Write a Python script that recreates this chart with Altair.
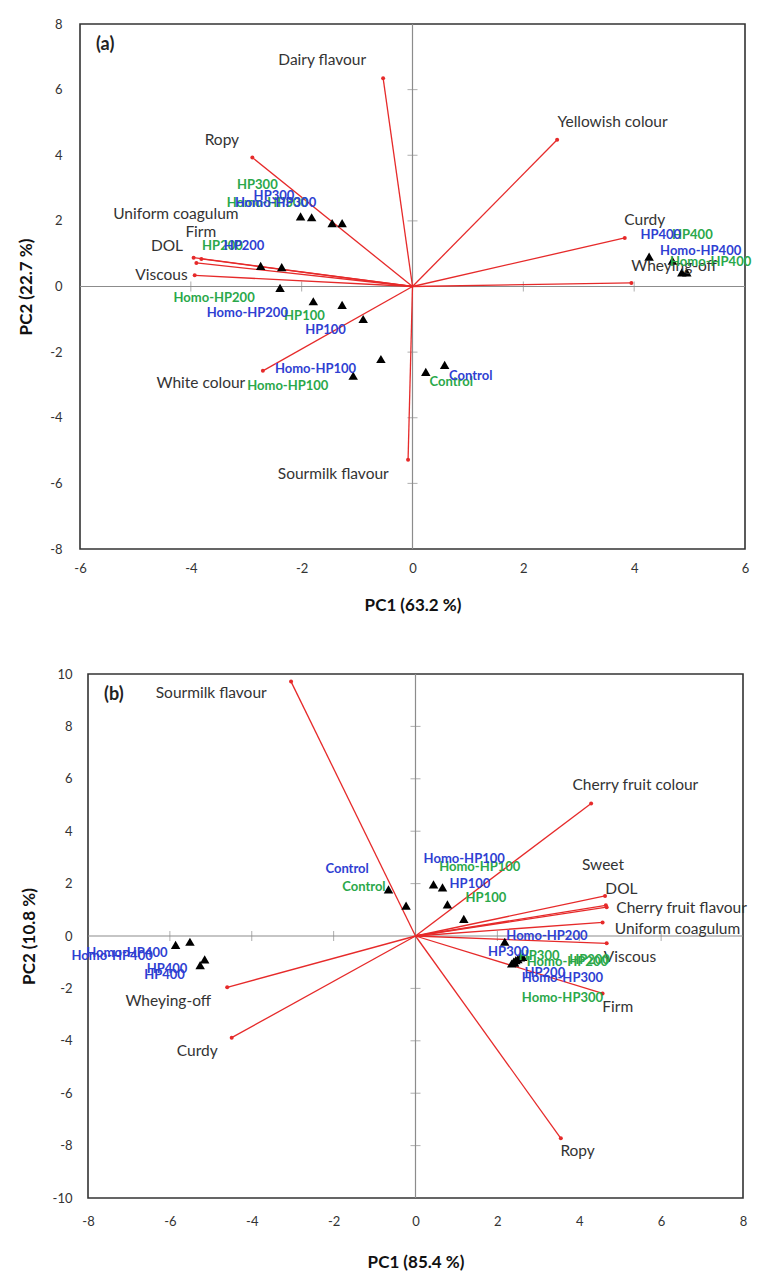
import altair as alt
import pandas as pd

FONT = "Lato"
RED = "#e62a2a"
BLUE = "#2f3fd2"
GREEN = "#2aa84a"
GRAY = "#8c8c8c"

# ---------------- Panel (a) ----------------
a_var_names = ["Dairy flavour", "Ropy", "DOL", "Firm", "Uniform coagulum", "Viscous",
               "White colour", "Sourmilk flavour", "Yellowish colour", "Curdy", "Wheying-off"]
a_var_x = [-0.53, -2.89, -3.95, -3.81, -3.90, -3.93, -2.70, -0.08, 2.61, 3.83, 3.95]
a_var_y = [6.35, 3.93, 0.88, 0.84, 0.72, 0.34, -2.57, -5.28, 4.47, 1.48, 0.11]
a_lab_x = [-1.63, -3.44, -4.43, -3.82, -4.27, -4.53, -3.82, -1.43, 3.61, 4.19, 4.72]
a_lab_y = [6.90, 4.45, 1.23, 1.67, 2.21, 0.36, -2.95, -5.70, 5.00, 2.03, 0.63]

a_tri_x = [-2.02, -1.82, -1.45, -1.27, -2.74, -2.36, -2.39, -1.79, -1.27, -0.89, -0.57,
           -1.07, 0.24, 0.58, 4.27, 4.69, 4.86, 4.95]
a_tri_y = [2.14, 2.11, 1.93, 1.93, 0.63, 0.59, -0.04, -0.45, -0.56, -0.99, -2.21,
           -2.72, -2.60, -2.39, 0.91, 0.79, 0.43, 0.43]

a_smp_names = ["HP300", "Homo-HP300", "HP200", "Homo-HP200", "HP100", "Homo-HP100", "Control", "HP400", "Homo-HP400",
               "HP300", "Homo-HP300", "HP200", "Homo-HP200", "HP100", "Homo-HP100", "Control", "HP400", "Homo-HP400"]
a_smp_group = ["green"] * 9 + ["blue"] * 9
a_smp_x = [-2.80, -2.62, -3.43, -3.58, -1.95, -2.25, 0.70, 5.05, 5.38,
           -2.50, -2.47, -3.04, -2.98, -1.57, -1.75, 1.05, 4.48, 5.20]
a_smp_y = [3.09, 2.55, 1.23, -0.36, -0.89, -3.02, -2.92, 1.58, 0.74,
           2.77, 2.55, 1.23, -0.81, -1.32, -2.52, -2.72, 1.58, 1.07]

a_ticks_x = [-6, -4, -2, 0, 2, 4, 6]
a_ticks_y = [-8, -6, -4, -2, 0, 2, 4, 6, 8]

# ---------------- Panel (b) ----------------
b_var_names = ["Sourmilk flavour", "Cherry fruit colour", "Sweet", "DOL", "Cherry fruit flavour",
               "Uniform coagulum", "Viscous", "Firm", "Ropy", "Wheying-off", "Curdy"]
b_var_x = [-3.04, 4.29, 4.63, 4.65, 4.67, 4.57, 4.67, 4.57, 3.55, -4.60, -4.49]
b_var_y = [9.71, 5.06, 1.53, 1.17, 1.10, 0.52, -0.28, -2.19, -7.72, -1.96, -3.88]
b_lab_x = [-4.99, 5.37, 4.58, 5.03, 6.50, 6.40, 5.24, 4.94, 3.96, -6.04, -5.33]
b_lab_y = [9.26, 5.76, 2.70, 1.81, 1.08, 0.28, -0.79, -2.70, -8.19, -2.47, -4.38]

b_tri_x = [-0.66, -0.23, 0.44, 0.66, 0.78, 1.18, -5.86, -5.51, -5.15, -5.26,
           2.18, 2.35, 2.40, 2.45, 2.50, 2.56, 2.42, 2.62]
b_tri_y = [1.78, 1.16, 1.97, 1.86, 1.21, 0.65, -0.34, -0.22, -0.89, -1.11,
           -0.22, -1.05, -0.98, -0.92, -0.88, -0.82, -1.02, -0.80]

b_smp_names = ["Control", "Homo-HP100", "HP100", "Homo-HP200", "HP300", "HP200", "Homo-HP300", "Homo-HP400", "HP400",
               "Control", "Homo-HP100", "HP100", "Homo-HP200", "HP300", "HP200", "Homo-HP300", "Homo-HP400", "HP400"]
b_smp_group = ["green", "green", "green", "green", "green", "green", "green", "blue", "blue",
               "blue", "blue", "blue", "blue", "blue", "blue", "blue", "blue", "blue"]
b_smp_x = [-1.26, 1.57, 1.72, 3.71, 3.02, 4.25, 3.59, -7.41, -6.13,
           -1.67, 1.19, 1.33, 3.21, 2.27, 3.16, 3.59, -7.05, -6.07]
b_smp_y = [1.88, 2.62, 1.44, -0.98, -0.76, -0.90, -2.38, -0.76, -1.49,
           2.57, 2.95, 2.00, 0.00, -0.60, -1.42, -1.62, -0.66, -1.26]

b_ticks_x = [-8, -6, -4, -2, 0, 2, 4, 6, 8]
b_ticks_y = [-10, -8, -6, -4, -2, 0, 2, 4, 6, 8, 10]


def panel(tag, var_names, var_x, var_y, lab_x, lab_y, tri_x, tri_y,
          smp_names, smp_group, smp_x, smp_y, ticks_x, ticks_y,
          xtitle, ytitle, width, height, xlab_pad, xtitle_pad, ylab_pad, ytitle_pad):
    xs = alt.Scale(domain=[ticks_x[0], ticks_x[-1]], nice=False, zero=False)
    ys = alt.Scale(domain=[ticks_y[0], ticks_y[-1]], nice=False, zero=False)
    xax = alt.Axis(values=ticks_x, title=xtitle, domain=False, ticks=False, grid=False,
                   labelExpr="toString(datum.value)",
                   labelPadding=xlab_pad, titlePadding=xtitle_pad, labelFlush=False)
    yax = alt.Axis(values=ticks_y, title=ytitle, domain=False, ticks=False, grid=False,
                   labelExpr="toString(datum.value)",
                   labelPadding=ylab_pad, titlePadding=ytitle_pad, labelFlush=False)

    vdf = pd.DataFrame({"name": var_names, "vx": var_x, "vy": var_y, "lx": lab_x, "ly": lab_y,
                        "ox": [0.0] * len(var_x), "oy": [0.0] * len(var_x)})
    tdf = pd.DataFrame({"tx": tri_x, "ty": tri_y})
    sdf = pd.DataFrame({"name": smp_names, "group": smp_group, "sx": smp_x, "sy": smp_y})
    zdf = pd.DataFrame({"z": [0.0]})
    txv = [v for v in ticks_x if v not in (0, ticks_x[0], ticks_x[-1])]
    tyv = [v for v in ticks_y if v not in (0, ticks_y[0], ticks_y[-1])]
    txdf = pd.DataFrame({"t": txv, "z": [0.0] * len(txv)})
    tydf = pd.DataFrame({"t": tyv, "z": [0.0] * len(tyv)})
    tagdf = pd.DataFrame({"tag": [tag], "px": [float(ticks_x[0])], "py": [float(ticks_y[-1])]})

    base_axes = alt.Chart(tdf).mark_point(opacity=0).encode(
        x=alt.X("tx:Q", scale=xs, axis=xax),
        y=alt.Y("ty:Q", scale=ys, axis=yax),
    )
    zero_x = alt.Chart(zdf).mark_rule(color=GRAY, strokeWidth=1.2).encode(x=alt.X("z:Q"))
    zero_y = alt.Chart(zdf).mark_rule(color=GRAY, strokeWidth=1.2).encode(y=alt.Y("z:Q"))
    ticks_on_x = alt.Chart(txdf).mark_tick(color=GRAY, orient="vertical", size=10, thickness=1).encode(
        x=alt.X("t:Q"), y=alt.Y("z:Q"))
    ticks_on_y = alt.Chart(tydf).mark_tick(color=GRAY, orient="horizontal", size=10, thickness=1).encode(
        y=alt.Y("t:Q"), x=alt.X("z:Q"))
    vectors = alt.Chart(vdf).mark_rule(color=RED, strokeWidth=1.3).encode(
        x=alt.X("ox:Q"), y=alt.Y("oy:Q"), x2="vx", y2="vy")
    ends = alt.Chart(vdf).mark_point(filled=True, color=RED, size=16, opacity=1).encode(
        x=alt.X("vx:Q"), y=alt.Y("vy:Q"))
    tris = alt.Chart(tdf).mark_point(shape="triangle-up", filled=True, color="black", size=90, opacity=1).encode(
        x=alt.X("tx:Q"), y=alt.Y("ty:Q"))
    vlabels = alt.Chart(vdf).mark_text(font=FONT, fontSize=15.5, color="#333333", align="center",
                                      baseline="middle").encode(x=alt.X("lx:Q"), y=alt.Y("ly:Q"), text="name:N")
    slabels = alt.Chart(sdf).mark_text(font=FONT, fontSize=13, fontWeight="bold", align="center",
                                      baseline="middle").encode(
        x=alt.X("sx:Q"), y=alt.Y("sy:Q"), text="name:N",
        color=alt.Color("group:N", scale=alt.Scale(domain=["green", "blue"], range=[GREEN, BLUE]), legend=None))
    tagt = alt.Chart(tagdf).mark_text(font=FONT, fontSize=18, fontWeight="bold", color="#222222",
                                     align="left", baseline="middle", dx=16, dy=21).encode(
        x=alt.X("px:Q"), y=alt.Y("py:Q"), text="tag:N")

    return alt.layer(base_axes, zero_x, zero_y, ticks_on_x, ticks_on_y, vectors, ends, tris,
                     vlabels, slabels, tagt).properties(width=width, height=height)


def spacer(w):
    return alt.Chart(pd.DataFrame({"z": [0.0]})).mark_point(opacity=0).encode(
        x=alt.value(0), y=alt.value(0)
    ).properties(width=w, height=1, view=alt.ViewBackground(stroke="transparent"))


pa = panel("(a)", a_var_names, a_var_x, a_var_y, a_lab_x, a_lab_y, a_tri_x, a_tri_y,
           a_smp_names, a_smp_group, a_smp_x, a_smp_y, a_ticks_x, a_ticks_y,
           "PC1 (63.2 %)", "PC2 (22.7 %)", 665, 525, 13, 22, 18, 14)
pb = panel("(b)", b_var_names, b_var_x, b_var_y, b_lab_x, b_lab_y, b_tri_x, b_tri_y,
           b_smp_names, b_smp_group, b_smp_x, b_smp_y, b_ticks_x, b_ticks_y,
           "PC1 (85.4 %)", "PC2 (10.8 %)", 655, 524, 17, 26, 16, 14)

row_a = alt.hconcat(spacer(3), pa, spacing=0)
row_b = alt.hconcat(spacer(6), pb, spacing=0)

chart = alt.vconcat(row_a, row_b, spacing=53).properties(
    padding={"left": 0, "top": 9, "right": 0, "bottom": 5}
).configure_view(
    stroke="#333333", strokeWidth=1.6
).configure_axis(
    labelFont=FONT, labelFontSize=13, labelColor="#333333",
    titleFont=FONT, titleFontSize=17, titleFontWeight="bold", titleColor="#111111"
)

chart.save("out.html", embed_options={"renderer": "svg", "actions": False})
